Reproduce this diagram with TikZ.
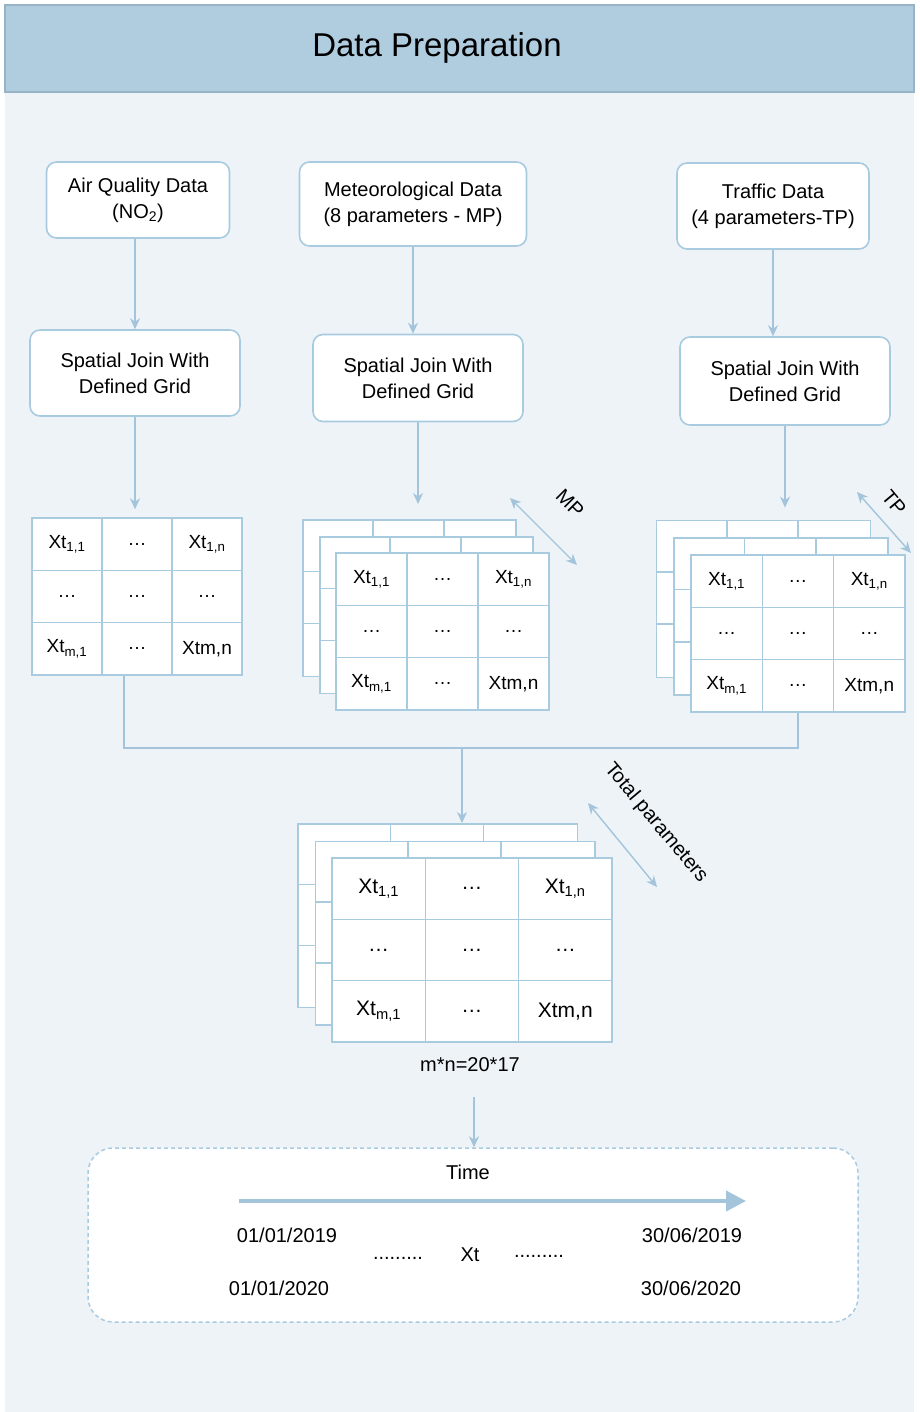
\documentclass[tikz,border=0pt]{standalone}
\usepackage{fontspec}
\setmainfont{Liberation Sans}
\usetikzlibrary{positioning,calc,arrows.meta}

\definecolor{hdrblue}{HTML}{B0CDE0}
\definecolor{hdrline}{HTML}{98B2C6}
\definecolor{panelbg}{HTML}{EEF3F8}
\definecolor{edgeblue}{HTML}{A9CBE0}
\definecolor{flowblue}{HTML}{A3C4DA}

\tikzset{
  procbox/.style={draw=edgeblue, line width=1.6pt, fill=white, rounded corners=10pt, align=center, font=\fontsize{20}{26}\selectfont, inner sep=0pt},
  cellbox/.style={draw=edgeblue, line width=1.5pt, fill=white, inner sep=0pt},
  layerbox/.style={draw=edgeblue, line width=1.5pt, fill=white, inner sep=0pt, anchor=north west},
  flow/.style={draw=flowblue, line width=1.4pt},
  flowarr/.style={flow, -{Stealth[length=11pt,width=10pt]}},
  twoway/.style={flow, {Stealth[length=11pt,width=10pt]}-{Stealth[length=11pt,width=10pt]}},
  lbl/.style={font=\fontsize{20}{24}\selectfont, inner sep=1pt},
}

\begin{document}
\begin{tikzpicture}[x=1pt,y=-1pt]
    \useasboundingbox (0,0) rectangle (919,1412);
    % Panel and header
    \fill[panelbg] (5,92) rectangle (914,1412);
    \draw[hdrline, fill=hdrblue, line width=1.2pt] (5,5) rectangle (914,92);
    \node[font=\fontsize{33}{40}\selectfont] (title) at (437,48) {Data Preparation};

    % Data sources
    \node[procbox, minimum width=183pt, minimum height=76pt] (aq) at (138,200) {Air Quality Data\\(NO\textsubscript{2})};
    \node[procbox, minimum width=227pt, minimum height=84pt] (met) at (413,204) {Meteorological Data\\(8 parameters - MP)};
    \node[procbox, minimum width=192pt, minimum height=86pt] (traf) at (773,206) {Traffic Data\\(4 parameters-TP)};

    % Spatial joins
    \node[procbox, minimum width=210pt, minimum height=86pt] (sj1) at (135,373) {Spatial Join With\\Defined Grid};
    \node[procbox, minimum width=210pt, minimum height=87pt] (sj2) at (418,378) {Spatial Join With\\Defined Grid};
    \node[procbox, minimum width=210pt, minimum height=88pt] (sj3) at (785,381) {Spatial Join With\\Defined Grid};

    \draw[flowarr] (aq.south -| sj1.north) -- (sj1.north);
    \draw[flowarr] (met.south) -- (met.south |- sj2.north);
    \draw[flowarr] (traf.south) -- (traf.south |- sj3.north);

    % Back layers of the stacked grids
    \foreach \g/\gx/\gy/\cw/\rh/\off in {g2/336/553/71/52.3/17, g3/691/555/71.3/52.3/17.7, g4/332/858/93.3/61.3/17.5} {
        \foreach \l in {2,1} {
            \node[layerbox, minimum width={3*\cw pt}, minimum height={3*\rh pt}] (\g-b\l) at ({\gx-\l*\off},{\gy-\l*\off}) {};
            \foreach \k in {1,2} {
                \draw[edgeblue, line width=1.5pt] ({\gx-\l*\off+\k*\cw},{\gy-\l*\off}) -- ++(0,{3*\rh});
                \draw[edgeblue, line width=1.5pt] ({\gx-\l*\off},{\gy-\l*\off+\k*\rh}) -- ++({3*\cw},0);
            }
        }
    }

    % Front grids
    \foreach \g/\gx/\gy/\cw/\rh/\fs in {g1/32/518/70/52.3/19, g2/336/553/71/52.3/19, g3/691/555/71.3/52.3/19, g4/332/858/93.3/61.3/21} {
        \foreach \r/\c/\txt in {1/1/{Xt\textsubscript{1,1}}, 1/2/{\ldots}, 1/3/{Xt\textsubscript{1,n}},
                                 2/1/{\ldots}, 2/2/{\ldots}, 2/3/{\ldots},
                                 3/1/{Xt\textsubscript{m,1}}, 3/2/{\ldots}, 3/3/{Xtm,n}}
            \node[cellbox, minimum width=\cw pt, minimum height=\rh pt, font=\fontsize{\fs}{\fs}\selectfont]
                (\g-\r-\c) at ({\gx+(\c-0.5)*\cw},{\gy+(\r-0.5)*\rh}) {\txt};
    }

    \draw[flowarr, shorten >=8pt] (sj1.south) -- (sj1.south |- g1-1-2.north);
    \draw[flowarr, shorten >=15pt] (sj2.south) -- (sj2.south |- g2-b2.north);
    \draw[flowarr, shorten >=12pt] (sj3.south) -- (sj3.south |- g3-b2.north);

    % Parameter axes
    \coordinate (mpa) at (510,498);
    \coordinate (mpb) at (577,565);
    \draw[twoway] (mpa) -- (mpb);
    \node[lbl, rotate=-45] (mplbl) at (570,503) {MP};
    \coordinate (tpa) at (857,492);
    \coordinate (tpb) at (911,553);
    \draw[twoway] (tpa) -- (tpb);
    \node[lbl, rotate=-50] (tplbl) at (894,503) {TP};

    % Merge of the three grids
    \coordinate (jl) at (124,748);
    \coordinate (jm) at (462,748);
    \draw[flow] (jl |- g1-3-1.south) -- (jl) -| (g3-3-2.south);
    \draw[flowarr] (jm) -- (jm |- g4-b2.north);

    \coordinate (tota) at (588,803);
    \coordinate (totb) at (657,887);
    \draw[twoway] (tota) -- (totb);
    \node[lbl, rotate=-50] (totlbl) at (656,823) {Total parameters};
    \node[lbl] (mn) at (470,1065) {m*n=20*17};

    % Time window
    \node[draw=edgeblue, dash pattern=on 4pt off 3pt, line width=1.5pt, fill=white, rounded corners=25pt,
          minimum width=770pt, minimum height=174pt] (timebox) at (473,1235) {};
    \coordinate (t0) at (474,1097);
    \draw[flowarr] (t0) -- (t0 |- timebox.north);
    \node[lbl] (timelbl) at (468,1172) {Time};
    \coordinate (ta) at (239,1201);
    \coordinate (tb) at (746,1201);
    \draw[draw=flowblue, line width=4pt, -{Triangle[length=20pt,width=20pt]}] (ta) -- (tb);
    \node[lbl] (d1) at (287,1235) {01/01/2019};
    \node[lbl] (d2) at (692,1235) {30/06/2019};
    \node[lbl] (d3) at (279,1288) {01/01/2020};
    \node[lbl] (d4) at (691,1288) {30/06/2020};
    \node[lbl] (xt) at (470,1255) {Xt};
    \node[lbl] (dl) at (398,1258) {.........};
    \node[lbl] (dr) at (539,1256) {.........};
\end{tikzpicture}
\end{document}
